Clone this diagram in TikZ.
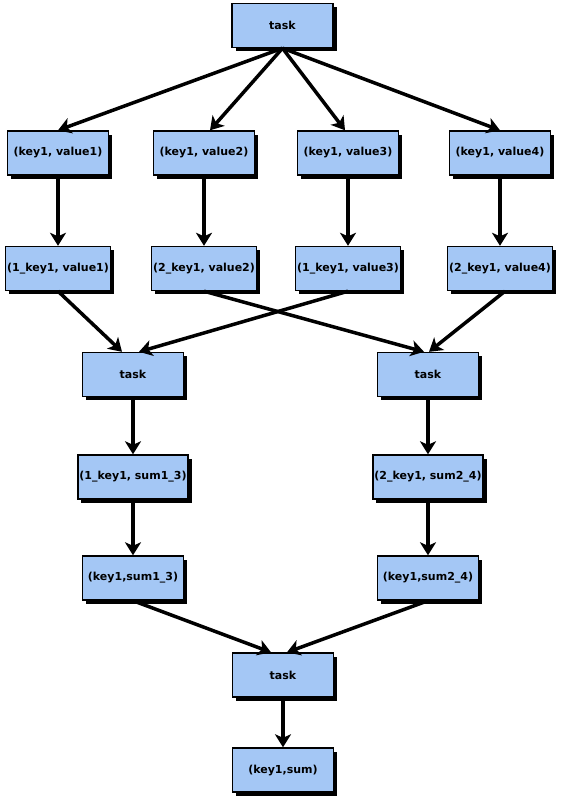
\documentclass[tikz,border=0pt]{standalone}
\usepackage{fontspec}
\setmainfont{DejaVu Sans}
\usetikzlibrary{arrows.meta,shadows}
\definecolor{boxblue}{RGB}{164,199,245}

\tikzset{
  box/.style={draw, line width=1.4pt, fill=boxblue, minimum width=101pt,
    minimum height=44pt, inner xsep=1.5pt,
    font=\bfseries\fontsize{11}{13}\selectfont,
    general shadow={fill=black, shadow xshift=3.5pt, shadow yshift=-3.5pt}},
  flow/.style={line width=3.5pt, -{Stealth[length=13pt,width=16pt,inset=3.5pt]}}
}

\begin{document}
\begin{tikzpicture}[x=1pt,y=-1pt]
		\useasboundingbox (0,0) rectangle (568,801);
		
		\node[box] (task) at (282.5,25.5) {task};
		
		\node[box] (kv1) at (58,153) {(key1, value1)};
		\node[box] (kv2) at (204,153) {(key1, value2)};
		\node[box] (kv3) at (348,153) {(key1, value3)};
		\node[box] (kv4) at (500,153) {(key1, value4)};
		
		\node[box] (pkv1) at (58,268.5) {(1\_key1, value1)};
		\node[box] (pkv2) at (204,268.5) {(2\_key1, value2)};
		\node[box] (pkv3) at (348,268.5) {(1\_key1, value3)};
		\node[box] (pkv4) at (500,268.5) {(2\_key1, value4)};
		
		\node[box] (taskl) at (133,374.5) {task};
		\node[box] (taskr) at (428,374.5) {task};
		
		\node[box] (suml) at (133,477) {(1\_key1, sum1\_3)};
		\node[box] (sumr) at (428,477) {(2\_key1, sum2\_4)};
		
		\node[box] (ksuml) at (133,578) {(key1,sum1\_3)};
		\node[box] (ksumr) at (428,578) {(key1,sum2\_4)};
		
		\node[box] (taskb) at (283,675) {task};
		\node[box] (total) at (283,770) {(key1,sum)};
		
		% split
		\draw[flow] (task.south) -- (kv1.north);
		\draw[flow] (task.south) -- ([xshift=6pt]kv2.north);
		\draw[flow] (task.south) -- ([xshift=-3pt]kv3.north);
		\draw[flow] (task.south) -- (kv4.north);
		
		\draw[flow] (kv1) -- (pkv1);
		\draw[flow] (kv2) -- (pkv2);
		\draw[flow] (kv3) -- (pkv3);
		\draw[flow] (kv4) -- (pkv4);
		
		% shuffle
		\draw[flow] (pkv1.south) -- ([xshift=-11pt]taskl.north);
		\draw[flow] (pkv3.south) -- ([xshift=6pt]taskl.north);
		\draw[flow] (pkv2.south) -- ([xshift=-4pt]taskr.north);
		\draw[flow] ([xshift=5pt]pkv4.south) -- ([xshift=1pt]taskr.north);
		
		\draw[flow] (taskl) -- (suml);
		\draw[flow] (taskr) -- (sumr);
		\draw[flow] (suml) -- (ksuml);
		\draw[flow] (sumr) -- (ksumr);
		
		% reduce
		\draw[flow] (ksuml.south) -- ([xshift=-12pt]taskb.north);
		\draw[flow] (ksumr.south) -- ([xshift=4pt]taskb.north);
		\draw[flow] (taskb) -- (total);
\end{tikzpicture}
\end{document}
